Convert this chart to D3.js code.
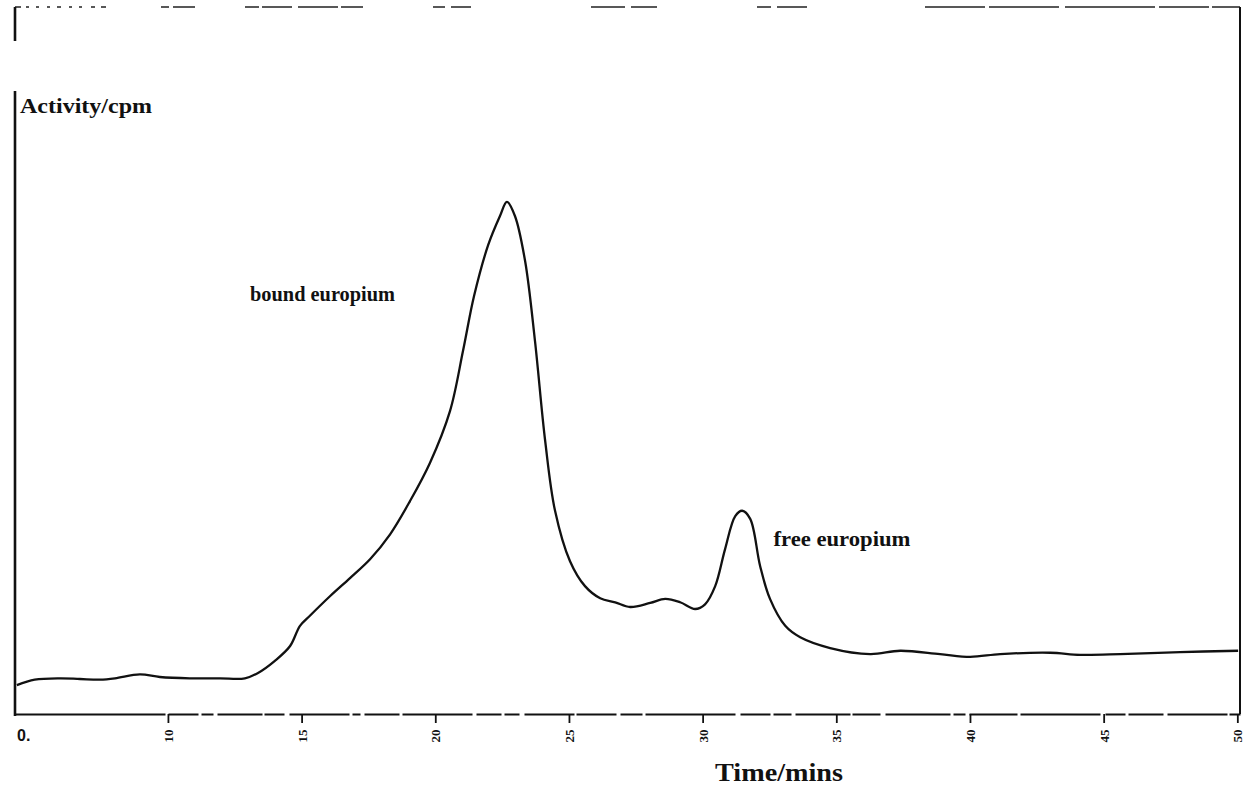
<!DOCTYPE html>
<html>
<head>
<meta charset="utf-8">
<script src="https://cdn.jsdelivr.net/npm/d3@7"></script>
<style>
  html, body { margin: 0; padding: 0; background: #fff; }
  svg { display: block; }
</style>
</head>
<body>
<svg id="chart" width="1253" height="785"></svg>
<script>
// Elution time (minutes) and measured activity (cpm, arbitrary scale)
const timeMins = [4.35, 5.02, 5.96, 6.71, 7.46, 8.02, 8.95, 9.70, 10.82, 11.95,
  12.88, 13.37, 14.00, 14.57, 14.94, 15.31, 16.06, 16.81, 17.56, 18.31,
  19.05, 19.80, 20.55, 21.04, 21.45, 21.98, 22.42, 22.68, 22.98, 23.36,
  23.73, 24.11, 24.48, 25.04, 25.60, 26.17, 26.73, 27.29, 28.04, 28.60,
  29.16, 29.72, 30.09, 30.47, 30.84, 31.22, 31.48, 31.78, 32.15, 32.52,
  33.09, 33.65, 34.77, 36.27, 37.39, 38.88, 40.01, 41.13, 43.00, 44.12,
  45.62, 47.86, 50.03];
const activity = [43, 51, 53, 52, 51, 53, 59, 55, 53, 53,
  53, 61, 79, 101, 131, 146, 175, 202, 230, 267,
  316, 373, 450, 540, 621, 697, 740, 761, 740, 673,
  554, 406, 302, 227, 190, 172, 166, 159, 165, 171,
  166, 156, 163, 190, 245, 294, 302, 290, 220, 171,
  131, 114, 98, 89, 94, 89, 85, 89, 91, 88,
  89, 92, 94];

const tickValues = [10, 15, 20, 25, 30, 35, 40, 45, 50];
const originLabel = "0.";
const peakLabels = [
  { text: "bound europium", t: 13.07, v: 614, len: 145 },
  { text: "free europium", t: 32.65, v: 250, len: 137 }
];
const yTitle = "Activity/cpm";
const xTitle = "Time/mins";

const svg = d3.select("#chart");
const plotLeft = 15, plotRight = 1240, plotTop = 6, plotBottom = 714;

const x = d3.scaleLinear().domain([4.28, 50.1]).range([plotLeft, plotRight]);
const y = d3.scaleLinear().domain([0, 1000]).range([plotBottom, plotBottom - 673]);

// frame: top edge (worn), right edge, left edge
svg.append("line")
  .attr("x1", plotLeft).attr("x2", plotRight).attr("y1", plotTop + 1).attr("y2", plotTop + 1)
  .attr("stroke", "#222").attr("stroke-width", 1.3)
  .attr("stroke-dasharray", "6,5,3,7,3,8,3,7,4,8,3,7,3,9,4,6,5,55,8,4,22,50,14,3,30,6,40,3,22,70,12,6,20,120,34,6,26,100,14,6,30,118,60,4,70,6,90,4,50,3,30");
svg.append("line")
  .attr("x1", plotRight).attr("x2", plotRight).attr("y1", plotTop + 1).attr("y2", plotBottom)
  .attr("stroke", "#111").attr("stroke-width", 2);
svg.append("line")
  .attr("x1", plotLeft).attr("x2", plotLeft).attr("y1", plotTop + 1).attr("y2", plotBottom + 2)
  .attr("stroke", "#111").attr("stroke-width", 2.6)
  .attr("stroke-dasharray", "34,50,700");

// x axis with vertical tick labels
const xAxis = svg.append("g")
  .attr("transform", `translate(0,${plotBottom})`)
  .call(d3.axisBottom(x).tickValues(tickValues).tickSize(9).tickSizeOuter(0).tickFormat(d3.format("d")));
xAxis.select(".domain")
  .attr("stroke", "#111").attr("stroke-width", 2.2)
  .attr("stroke-dasharray", "150,3,30,3,12,4,45,2,20,5,60,3,8,4,35,3,70,4,25,3,15,5,50,2,40,4,22,3,90,5,30,3,18,4,55,2,28,5,65,3,12,4,48,3,80,5,20,3,35,4,60,2,26,5,44,3");
xAxis.selectAll(".tick line").attr("stroke", "#111").attr("stroke-width", 1.8);
xAxis.selectAll(".tick text")
  .attr("transform", "rotate(-90)")
  .attr("x", -22).attr("y", 0).attr("dy", "0.35em")
  .attr("text-anchor", "middle")
  .style("font-family", "Liberation Serif, serif")
  .style("font-size", "13px").style("font-weight", "bold")
  .attr("fill", "#111");

svg.append("text")
  .attr("x", plotLeft + 2).attr("y", 741)
  .style("font-family", "Liberation Sans, sans-serif")
  .style("font-size", "16px").style("font-weight", "bold")
  .attr("fill", "#111")
  .text(originLabel);

// activity trace
const line = d3.line()
  .x((d, i) => x(timeMins[i]))
  .y(d => y(d))
  .curve(d3.curveCatmullRom.alpha(0.5));
svg.append("path")
  .datum(activity)
  .attr("d", line)
  .attr("fill", "none")
  .attr("stroke", "#111")
  .attr("stroke-width", 2.3)
  .attr("stroke-linejoin", "round");

// titles and peak annotations
svg.append("text")
  .attr("x", 20).attr("y", 113)
  .attr("textLength", 132).attr("lengthAdjust", "spacingAndGlyphs")
  .style("font-family", "Liberation Serif, serif")
  .style("font-size", "21px").style("font-weight", "bold")
  .attr("fill", "#111")
  .text(yTitle);

svg.append("text")
  .attr("x", 715).attr("y", 781)
  .attr("textLength", 128).attr("lengthAdjust", "spacingAndGlyphs")
  .style("font-family", "Liberation Serif, serif")
  .style("font-size", "25px").style("font-weight", "bold")
  .attr("fill", "#111")
  .text(xTitle);

svg.selectAll(".peak-label")
  .data(peakLabels)
  .join("text")
  .attr("class", "peak-label")
  .attr("x", d => x(d.t))
  .attr("y", d => y(d.v))
  .attr("textLength", d => d.len).attr("lengthAdjust", "spacingAndGlyphs")
  .style("font-family", "Liberation Serif, serif")
  .style("font-size", "20px").style("font-weight", "bold")
  .attr("fill", "#111")
  .text(d => d.text);
</script>
</body>
</html>
